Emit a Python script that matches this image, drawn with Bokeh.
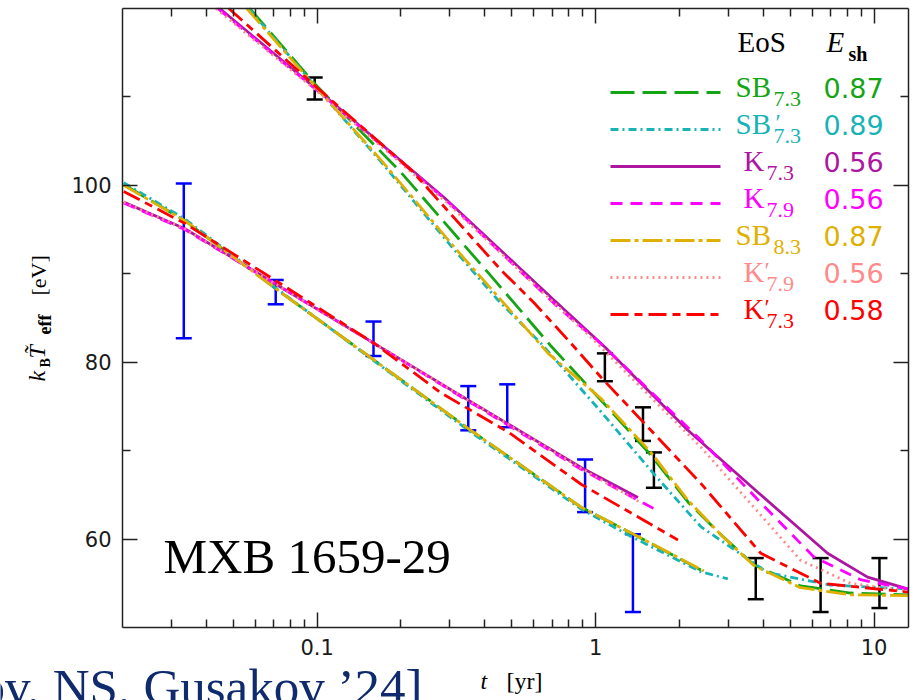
import numpy as np
from bokeh.plotting import figure
from bokeh.models import (Range1d, LinearScale, FixedTicker, LinearAxis, LogAxis,
                          Label, Whisker, TeeHead, ColumnDataSource,
                          CustomJSTickFormatter)
from bokeh.embed import file_html
from bokeh.resources import INLINE

# ---------------------------------------------------------------------------
# Axes: visible data box and ticks
X_BOX = (0.02, 13.3)       # t [yr]
Y_BOX = (50.0, 120.0)      # k_B T_eff [eV]
x_major = [0.1, 1, 10]
x_minor = [0.03, 0.04, 0.05, 0.06, 0.07, 0.08, 0.09,
           0.2, 0.3, 0.4, 0.5, 0.6, 0.7, 0.8, 0.9,
           2, 3, 4, 5, 6, 7, 8, 9]
y_major = [60, 80, 100]
y_minor = [70, 90, 110]

# ---------------------------------------------------------------------------
# Observations (black set and blue set): time [yr], lower / upper bounds [eV]
blk_t = [0.098, 1.08, 1.48, 1.62, 3.76, 6.43, 10.46]
blk_lo = [109.7, 77.85, 71.1, 65.8, 53.2, 51.75, 52.2]
blk_hi = [112.2, 81.0, 74.9, 69.8, 57.85, 57.85, 57.85]

blu_t = [0.0332, 0.071, 0.1594, 0.349, 0.4817, 0.917, 1.362]
blu_lo = [82.7, 86.55, 80.7, 72.3, 72.65, 63.05, 51.75]
blu_hi = [100.2, 89.3, 84.6, 77.3, 77.5, 69.0, 60.55]

# ---------------------------------------------------------------------------
# Model cooling curves, upper family (through the black points)
hi_SB73_t = [0.0573, 0.098, 0.2009, 0.4119, 0.693, 1.046, 1.58, 2.146, 2.818, 3.70, 5.45, 8.24, 13.3]
hi_SB73_T = [120.0, 111.5, 101.4, 90.1, 81.8, 75.7, 69.5, 64.2, 60.5, 57.1, 54.7, 53.9, 53.7]

hi_SB73p_t = [0.0568, 0.098, 0.1703, 0.311, 0.447, 0.638, 1.046, 1.647, 2.388, 4.15, 6.98, 13.3]
hi_SB73p_T = [120.0, 111.3, 102.6, 92.7, 87.0, 82.1, 74.4, 67.1, 61.4, 56.2, 54.8, 54.35]

hi_K73_t = [0.0447, 0.1038, 0.2864, 0.710, 1.082, 2.146, 3.824, 6.81, 9.48, 13.3]
hi_K73_T = [120.0, 110.4, 98.6, 87.0, 81.7, 72.3, 65.3, 58.4, 55.7, 54.35]

hi_K79_t = [0.0440, 0.1021, 0.2911, 0.734, 1.046, 2.388, 3.92, 6.07, 8.95, 13.3]
hi_K79_T = [120.0, 110.5, 98.3, 86.2, 82.1, 71.2, 64.1, 58.0, 55.4, 54.35]

hi_SB83_t = [0.0559, 0.0972, 0.1703, 0.311, 0.6757, 1.046, 1.58, 2.146, 2.818, 3.70, 5.45, 8.24, 13.3]
hi_SB83_T = [120.0, 111.4, 102.8, 93.0, 81.0, 75.9, 69.8, 64.4, 60.5, 57.0, 54.5, 53.7, 53.6]

hi_K79p_t = [0.0433, 0.1021, 0.2911, 0.9636, 2.388, 5.45, 8.24, 13.3]
hi_K79p_T = [120.0, 110.4, 98.1, 82.8, 70.4, 57.6, 55.0, 54.1]

hi_K73p_t = [0.0482, 0.1004, 0.2182, 0.4584, 0.602, 0.797, 1.046, 2.388, 3.92, 6.43, 13.3]
hi_K73p_T = [120.0, 111.0, 101.7, 90.4, 86.7, 82.5, 78.3, 66.3, 58.4, 55.0, 54.0]

# Model cooling curves, lower family (through the blue points)
lo_SB73_t = [0.0202, 0.0335, 0.0704, 0.1608, 0.349, 0.887, 1.34, 2.388]
lo_SB73_T = [100.1, 96.0, 88.4, 80.2, 72.5, 63.6, 60.7, 56.5]

lo_SB73p_t = [0.0202, 0.0335, 0.0704, 0.1608, 0.349, 0.887, 1.34, 2.388, 2.985]
lo_SB73p_T = [100.3, 96.2, 88.5, 80.1, 72.3, 63.4, 60.3, 56.3, 55.5]

lo_K73_t = [0.0202, 0.0335, 0.0704, 0.1608, 0.349, 0.887, 1.42]
lo_K73_T = [98.1, 95.1, 88.9, 82.1, 75.7, 68.1, 64.7]

lo_K79_t = [0.0202, 0.0335, 0.0704, 0.1608, 0.349, 0.887, 1.42, 1.675]
lo_K79_T = [98.0, 95.0, 88.9, 82.1, 75.6, 67.9, 64.4, 63.2]

lo_SB83_t = [0.0202, 0.0335, 0.0704, 0.1608, 0.349, 0.887, 1.34, 2.448]
lo_SB83_T = [100.0, 96.0, 88.4, 80.2, 72.5, 63.6, 60.7, 56.4]

lo_K79p_t = [0.0202, 0.0335, 0.0704, 0.1608, 0.349, 0.887, 1.475]
lo_K79p_T = [98.1, 95.1, 88.9, 82.1, 75.7, 68.0, 64.0]

lo_K73p_t = [0.0202, 0.0335, 0.0704, 0.1608, 0.2794, 0.4857, 0.887, 1.976]
lo_K73p_T = [99.3, 95.7, 89.3, 82.1, 76.5, 72.1, 66.2, 59.9]

# Legend entries: EoS name, subscript, primed?, shell energy E_sh
eos_names = ["SB", "SB", "K", "K", "SB", "K", "K"]
eos_subs = ["7.3", "7.3", "7.3", "7.9", "8.3", "7.9", "7.3"]
eos_prime = [False, True, False, False, False, True, True]
eos_esh = ["0.87", "0.89", "0.56", "0.56", "0.87", "0.56", "0.58"]

colors = ["#14a514", "#17b3b6", "#ad169f", "#ff00ff", "#e0b000", "#ff8a8a", "#ff0000"]
dashes = ["24 8", "8 4 2 4", "solid", "12 8", "20 4 4 4", "2 4", "18 6 8 6"]

curves = [
    (hi_SB73_t, hi_SB73_T, lo_SB73_t, lo_SB73_T),
    (hi_SB73p_t, hi_SB73p_T, lo_SB73p_t, lo_SB73p_T),
    (hi_K73_t, hi_K73_T, lo_K73_t, lo_K73_T),
    (hi_K79_t, hi_K79_T, lo_K79_t, lo_K79_T),
    (hi_SB83_t, hi_SB83_T, lo_SB83_t, lo_SB83_T),
    (hi_K79p_t, hi_K79p_T, lo_K79p_t, lo_K79p_T),
    (hi_K73p_t, hi_K73p_T, lo_K73p_t, lo_K73p_T),
]

# ---------------------------------------------------------------------------
# Page geometry: the canvas is the whole frame, the data box sits inside it
W, H = 916, 700
BL, BR, BT, BB = 122, 908, 8, 627          # data box edges in page pixels

lx0, lx1 = np.log10(X_BOX[0]), np.log10(X_BOX[1])
kx = (lx1 - lx0) / (BR - BL)
x_full = (10 ** (lx0 - BL * kx), 10 ** (lx1 + (W - BR) * kx))
ky = (Y_BOX[1] - Y_BOX[0]) / (BB - BT)
y_full = (Y_BOX[0] - (H - BB) * ky, Y_BOX[1] + BT * ky)

p = figure(x_axis_type="log",
           x_range=Range1d(*x_full), y_range=Range1d(*y_full),
           frame_width=W, frame_height=H,
           min_border_left=0, min_border_right=0,
           min_border_top=0, min_border_bottom=0,
           output_backend="svg", toolbar_location=None,
           extra_x_ranges={"px": Range1d(0, W)},
           extra_y_ranges={"py": Range1d(H, 0)},
           extra_x_scales={"px": LinearScale()},
           extra_y_scales={"py": LinearScale()})

p.grid.visible = False
p.background_fill_color = "white"
p.border_fill_color = "white"
p.outline_line_color = None

AX = "#222222"


def style_axis(ax, labelled):
    ax.axis_line_color = AX
    ax.axis_line_width = 1.5
    ax.major_tick_line_color = AX
    ax.minor_tick_line_color = AX
    ax.major_tick_line_width = 1.5
    ax.minor_tick_line_width = 1.5
    ax.major_tick_in = 15
    ax.major_tick_out = 0
    ax.minor_tick_in = 8
    ax.minor_tick_out = 0
    if labelled:
        ax.major_label_text_font = "DejaVu Sans"
        ax.major_label_text_font_size = "21px"
        ax.major_label_text_color = "#1a1a1a"
        ax.major_label_standoff = 11
    else:
        ax.formatter = CustomJSTickFormatter(code="return ''")
        ax.major_label_text_font_size = "0px"
        ax.major_label_standoff = 0


# bottom / left axes pinned to the edges of the data box
xb = p.xaxis[0]
xb.ticker = FixedTicker(ticks=x_major, minor_ticks=x_minor)
xb.formatter = CustomJSTickFormatter(code="return tick.toString()")
xb.fixed_location = Y_BOX[0]
xb.bounds = X_BOX
style_axis(xb, True)

yl = p.yaxis[0]
yl.ticker = FixedTicker(ticks=y_major, minor_ticks=y_minor)
yl.fixed_location = X_BOX[0]
yl.bounds = Y_BOX
style_axis(yl, True)

top_axis = LogAxis(ticker=FixedTicker(ticks=x_major, minor_ticks=x_minor),
                   fixed_location=Y_BOX[1], bounds=X_BOX)
right_axis = LinearAxis(ticker=FixedTicker(ticks=y_major, minor_ticks=y_minor),
                        fixed_location=X_BOX[1], bounds=Y_BOX)
style_axis(top_axis, False)
style_axis(right_axis, False)
p.add_layout(top_axis, "above")
p.add_layout(right_axis, "right")

# ---------------------------------------------------------------------------
# cooling curves
for (ht, hT, lt, lT), c, d in zip(curves, colors, dashes):
    p.line(ht, hT, line_color=c, line_width=2.8, line_dash=d)
    p.line(lt, lT, line_color=c, line_width=2.8, line_dash=d)

# error bars
for t, lo, hi, c in [(blk_t, blk_lo, blk_hi, "black"), (blu_t, blu_lo, blu_hi, "#0000ff")]:
    src = ColumnDataSource(dict(t=t, lo=lo, hi=hi))
    p.add_layout(Whisker(source=src, base="t", lower="lo", upper="hi",
                         dimension="height", line_color=c, line_width=2.5,
                         upper_head=TeeHead(size=16, line_color=c, line_width=2.5),
                         lower_head=TeeHead(size=16, line_color=c, line_width=2.5)))


# ---------------------------------------------------------------------------
# text helpers: (x, y) is the start of the text on its baseline, in page pixels
BASE_SHIFT = 0.38   # label anchor sits this many em above the drawn baseline


def put(x, y, text, size, font="Liberation Serif", style="normal",
        color="black", rotated=False):
    if rotated:
        x -= BASE_SHIFT * size
    else:
        y -= BASE_SHIFT * size
    p.add_layout(Label(x=x, y=y, x_range_name="px", y_range_name="py",
                       text=text, text_font=font, text_font_size=f"{size}px",
                       text_font_style=style, text_color=color,
                       text_baseline="alphabetic", text_align="left",
                       angle=np.pi / 2 if rotated else 0.0))


# legend header
put(737, 53, "EoS", 29)
put(826, 53, "E", 29, style="italic")
put(848, 61, "sh", 20, style="bold")

# legend rows
for i, (name, sub, prime, esh, c, d) in enumerate(
        zip(eos_names, eos_subs, eos_prime, eos_esh, colors, dashes)):
    ly = 92 + 37 * i
    p.line([610, 720], [ly, ly], x_range_name="px", y_range_name="py",
           line_color=c, line_width=2.8, line_dash=d)
    if name == "SB":
        mx, sx, qx = 735, 773, 775
    else:
        mx, sx, qx = 743, 766, 764
    put(mx, ly + 6, name, 29, color=c)
    put(sx, ly + 15, sub, 22, color=c)
    if prime:
        put(qx, ly + 2, "\u2032", 24, color=c)
    put(823, ly + 6, esh, 27, font="DejaVu Sans", color=c)

# source name
put(163, 575, "MXB 1659-29", 49)

# axis titles
put(480, 690, "t", 24, style="italic")
put(506, 690, "[yr]", 24)
put(46, 381, "k", 24, style="italic", rotated=True)
put(50, 367, "B", 14, style="bold", rotated=True)
put(46, 358, "T\u0303", 24, style="italic", rotated=True)
put(51, 334, "eff", 18, style="bold", rotated=True)
put(46, 295, "[eV]", 22, rotated=True)

# reference line
put(-21, 706, "ov, NS, Gusakov \u201924]", 51, color="#0f2b6e")

open("out.html", "w").write(file_html(p, INLINE))
